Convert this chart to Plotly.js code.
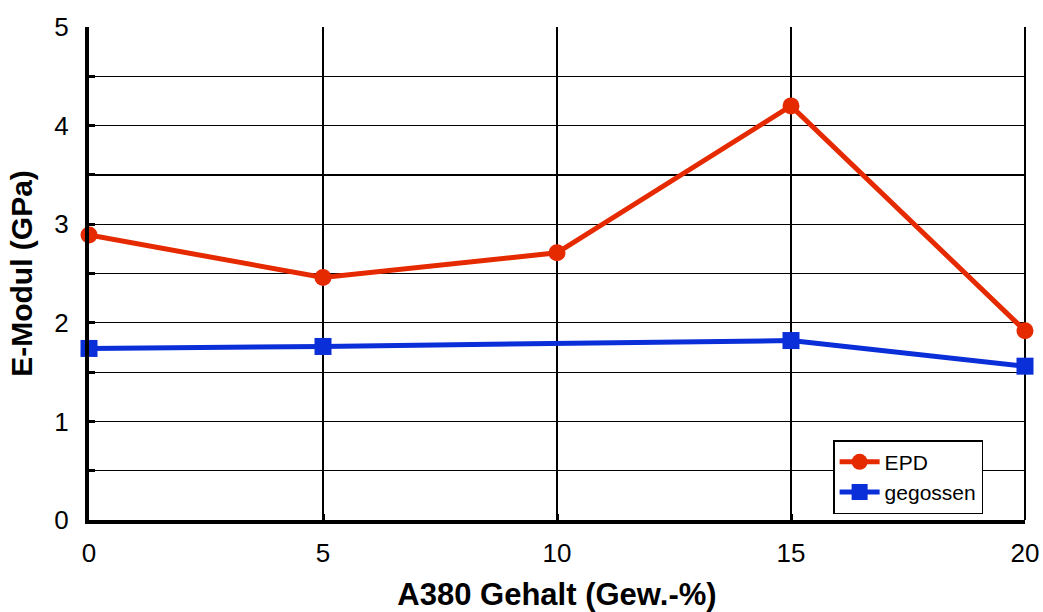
<!DOCTYPE html>
<html>
<head>
<meta charset="utf-8">
<script src="https://cdn.plot.ly/plotly-3.0.1.min.js"></script>
<style>html,body{margin:0;padding:0;background:#fff;}#chart{width:1043px;height:612px;}</style>
</head>
<body>
<div id="chart"></div>
<script>
// A380 content (wt.-%) and measured Young's modulus (GPa)
const gehaltEPD = [0, 5, 10, 15, 20];
const modulEPD = [2.89, 2.46, 2.71, 4.20, 1.92];
const gehaltGegossen = [0, 5, 15, 20];
const modulGegossen = [1.74, 1.76, 1.82, 1.56];
const xTicks = [0, 5, 10, 15, 20];
const yTicks = [0, 1, 2, 3, 4, 5];

const font = 'Liberation Sans, Arial, Helvetica, sans-serif';

const traces = [
  {
    x: gehaltEPD, y: modulEPD, name: 'EPD', type: 'scatter', mode: 'lines+markers',
    line: {color: '#e62a00', width: 5},
    marker: {symbol: 'circle', size: 17, color: '#e62a00'},
    cliponaxis: false
  },
  {
    x: gehaltGegossen, y: modulGegossen, name: 'gegossen', type: 'scatter', mode: 'lines+markers',
    line: {color: '#0a2ed8', width: 5},
    marker: {symbol: 'square', size: 17, color: '#0a2ed8'},
    cliponaxis: false
  }
];

const layout = {
  width: 1043, height: 612,
  margin: {l: 89, r: 18, t: 27, b: 92},
  paper_bgcolor: '#fff', plot_bgcolor: '#fff',
  font: {family: font, color: '#000', size: 26},
  showlegend: true,
  legend: {
    x: 0.795, y: 0.162, xanchor: 'left', yanchor: 'top',
    bgcolor: '#fff', bordercolor: '#000', borderwidth: 1.5,
    font: {family: font, size: 21, color: '#000'},
    itemwidth: 40, tracegroupgap: 0
  },
  xaxis: {
    range: [0, 20], tickvals: xTicks, ticktext: xTicks.map(String),
    showgrid: true, gridcolor: '#000', gridwidth: 1.2,
    showline: true, linecolor: '#000', linewidth: 4,
    ticks: 'inside', ticklen: 6, tickwidth: 3, tickcolor: '#000',
    ticklabelstandoff: 7,
    zeroline: false, fixedrange: true,
    tickfont: {family: font, size: 26},
    title: {text: 'A380 Gehalt (Gew.-%)', font: {family: font, size: 31, weight: 'bold'}, standoff: 18}
  },
  yaxis: {
    range: [0, 5], tickvals: yTicks, ticktext: yTicks.map(String),
    showgrid: true, gridcolor: '#000', gridwidth: 1.2,
    showline: true, linecolor: '#000', linewidth: 4,
    ticks: 'inside', ticklen: 6, tickwidth: 3, tickcolor: '#000',
    ticklabelstandoff: 11,
    minor: {dtick: 0.5, ticks: 'inside', ticklen: 6, tickwidth: 3, tickcolor: '#000', showgrid: true, gridcolor: '#000', gridwidth: 1.2},
    zeroline: false, fixedrange: true,
    tickfont: {family: font, size: 26},
    title: {text: 'E-Modul (GPa)', font: {family: font, size: 30, weight: 'bold'}, standoff: 14}
  },
  shapes: [
    {type: 'line', xref: 'paper', yref: 'paper', x0: 1, x1: 1, y0: 0, y1: 1, line: {color: '#000', width: 2}, layer: 'below'}
  ]
};

Plotly.newPlot('chart', traces, layout, {displayModeBar: false, staticPlot: true});
</script>
</body>
</html>
